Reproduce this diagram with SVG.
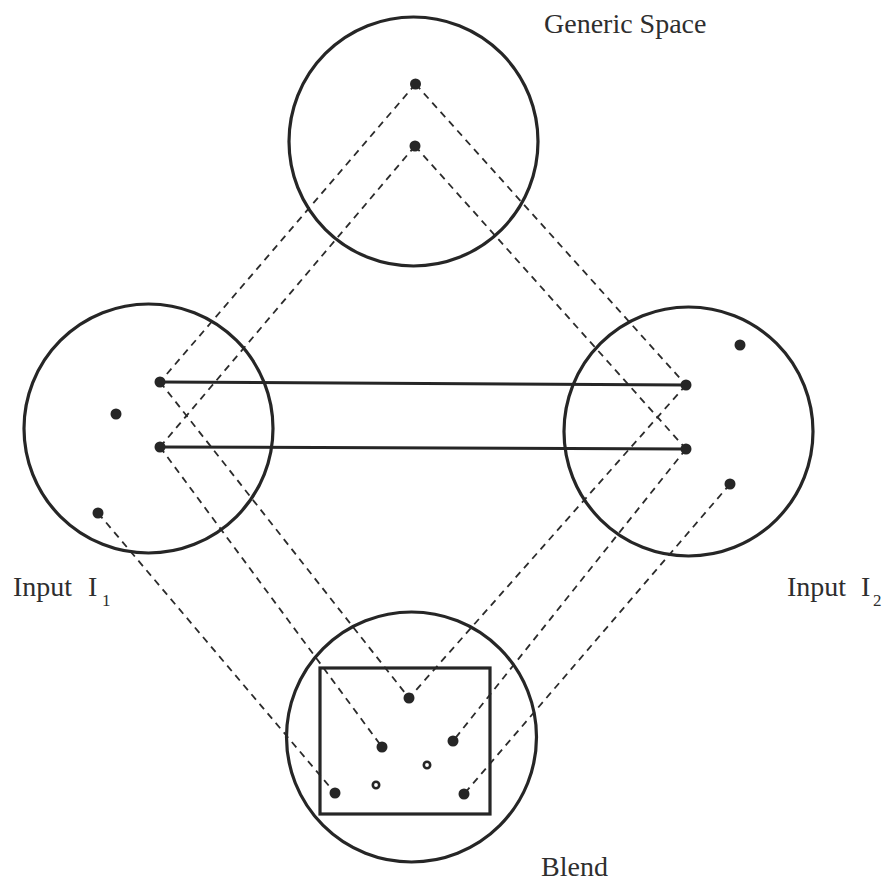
<svg xmlns="http://www.w3.org/2000/svg" width="883" height="881" viewBox="0 0 883 881">
<style>
.sp{fill:none;stroke:#262626;stroke-width:3.2}
.dash{stroke:#2b2b2b;stroke-width:1.8;stroke-dasharray:7 5.5;fill:none}
.solid{stroke:#262626;stroke-width:3;fill:none}
.dot{fill:#262626}
.hol{fill:#fff;stroke:#262626;stroke-width:2.6}
.lbl{font-family:"Liberation Serif","Times New Roman",serif;font-size:28px;fill:#2e2e2e}
.sub{font-family:"Liberation Serif","Times New Roman",serif;font-size:17px;fill:#2e2e2e}
</style>
<rect width="883" height="881" fill="#fff"/>
<g id="connectors">
<line class="dash" x1="415.5" y1="84" x2="160" y2="382"/>
<line class="dash" x1="415" y1="146" x2="160" y2="447"/>
<line class="dash" x1="415.5" y1="84" x2="686" y2="385"/>
<line class="dash" x1="415" y1="146" x2="686" y2="449"/>
<line class="dash" x1="160" y1="382" x2="409" y2="698"/>
<line class="dash" x1="160" y1="447" x2="382" y2="747"/>
<line class="dash" x1="98" y1="513" x2="335" y2="793"/>
<line class="dash" x1="686" y1="385" x2="409" y2="698"/>
<line class="dash" x1="686" y1="449" x2="453" y2="741"/>
<line class="dash" x1="730" y1="484" x2="464" y2="794"/>
<line class="solid" x1="160" y1="382" x2="686" y2="385"/>
<line class="solid" x1="160" y1="447" x2="686" y2="449"/>
</g>
<g id="generic">
<circle class="sp" cx="413.5" cy="141.5" r="124.5"/>
<circle class="dot" cx="415.5" cy="84" r="5.5"/>
<circle class="dot" cx="415" cy="146" r="5.5"/>
<text class="lbl" x="544" y="33">Generic Space</text>
</g>
<g id="input1">
<circle class="sp" cx="148.5" cy="428.5" r="124.5"/>
<circle class="dot" cx="160" cy="382" r="5.5"/>
<circle class="dot" cx="116" cy="414" r="5.5"/>
<circle class="dot" cx="160" cy="447" r="5.5"/>
<circle class="dot" cx="98" cy="513" r="5.5"/>
<text class="lbl" x="13" y="596">Input<tspan x="88">I</tspan><tspan class="sub" x="102" y="606">1</tspan></text>
</g>
<g id="input2">
<circle class="sp" cx="688.5" cy="431.5" r="124.5"/>
<circle class="dot" cx="740" cy="345" r="5.5"/>
<circle class="dot" cx="686" cy="385" r="5.5"/>
<circle class="dot" cx="686" cy="449" r="5.5"/>
<circle class="dot" cx="730" cy="484" r="5.5"/>
<text class="lbl" x="787" y="596">Input<tspan x="861">I</tspan><tspan class="sub" x="873" y="606">2</tspan></text>
</g>
<g id="blend">
<circle class="sp" cx="411.5" cy="737" r="125"/>
<rect class="sp" x="320" y="668" width="170" height="146"/>
<circle class="dot" cx="409" cy="698" r="5.5"/>
<circle class="dot" cx="382" cy="747" r="5.5"/>
<circle class="dot" cx="453" cy="741" r="5.5"/>
<circle class="hol" cx="427" cy="765" r="3.2"/>
<circle class="hol" cx="376" cy="785" r="3.2"/>
<circle class="dot" cx="335" cy="793" r="5.5"/>
<circle class="dot" cx="464" cy="794" r="5.5"/>
<text class="lbl" x="541" y="876">Blend</text>
</g>
</svg>
